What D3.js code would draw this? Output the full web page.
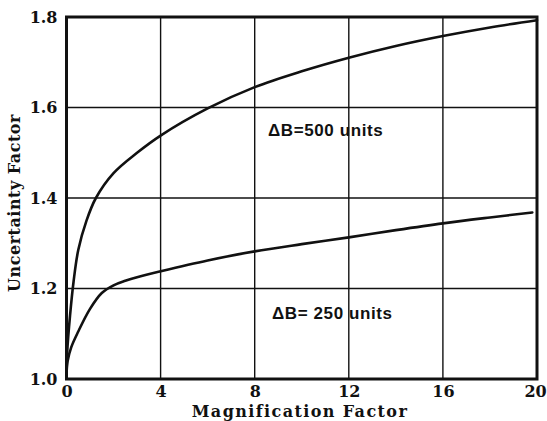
<!DOCTYPE html>
<html>
<head>
<meta charset="utf-8">
<script src="https://cdn.jsdelivr.net/npm/d3@7"></script>
<style>
  html, body { margin: 0; padding: 0; background: #fff; }
  svg { display: block; }
</style>
</head>
<body>
<svg id="chart" width="547" height="421"></svg>
<script>
// Magnification factor (x) and uncertainty factor (y) for two ΔB settings
const xTicks = [0, 4, 8, 12, 16, 20];
const yTicks = [1.0, 1.2, 1.4, 1.6, 1.8];
const yTickLabels = ["1.0", "1.2", "1.4", "1.6", "1.8"];

const mag500 = [0, 0.03, 0.15, 0.3, 0.5, 0.85, 1.25, 2, 3, 4, 6, 8, 10, 12, 14, 16, 18, 20];
const unc500 = [1.01, 1.06, 1.14, 1.215, 1.285, 1.35, 1.40, 1.455, 1.50, 1.538, 1.598, 1.645, 1.68, 1.71, 1.736, 1.758, 1.777, 1.793];

const mag250 = [0, 0.05, 0.2, 0.5, 1, 1.5, 2, 2.5, 3, 4, 6, 8, 10, 12, 14, 16, 18, 19.8];
const unc250 = [1.01, 1.04, 1.07, 1.105, 1.155, 1.19, 1.207, 1.217, 1.225, 1.238, 1.262, 1.282, 1.298, 1.313, 1.329, 1.344, 1.357, 1.368];

const seriesLabels = ["ΔB=500 units", "ΔB= 250 units"];

const svg = d3.select("#chart");
const plotLeft = 66.5, plotRight = 537, plotTop = 17, plotBottom = 379;

const x = d3.scaleLinear().domain([0, 20]).range([plotLeft, plotRight]);
const y = d3.scaleLinear().domain([1.0, 1.8]).range([plotBottom, plotTop]);

const serif = "'DejaVu Serif', 'Liberation Serif', serif";
const sans = "'Liberation Sans', Arial, sans-serif";

// grid lines
const grid = svg.append("g").attr("stroke", "#111").attr("stroke-width", 1.4);
grid.selectAll("line.vx").data(xTicks.slice(1, -1)).join("line")
  .attr("x1", d => x(d)).attr("x2", d => x(d))
  .attr("y1", plotTop).attr("y2", plotBottom);
grid.selectAll("line.hy").data(yTicks.slice(1, -1)).join("line")
  .attr("x1", plotLeft).attr("x2", plotRight)
  .attr("y1", d => y(d)).attr("y2", d => y(d));

// frame
svg.append("rect")
  .attr("x", plotLeft).attr("y", plotTop)
  .attr("width", plotRight - plotLeft).attr("height", plotBottom - plotTop)
  .attr("fill", "none").attr("stroke", "#111").attr("stroke-width", 3);

// axes (labels only; the frame draws the spines)
const xAxis = d3.axisBottom(x).tickValues(xTicks).tickSize(0).tickPadding(7).tickFormat(d3.format("d"));
const gx = svg.append("g").attr("transform", `translate(0,${plotBottom})`).call(xAxis);
gx.select(".domain").remove();
gx.selectAll("text").attr("font-family", serif).attr("font-weight", "bold")
  .attr("font-size", 16).attr("fill", "#111")
  .attr("dx", d => d === 20 ? -2 : 0);

const yAxis = d3.axisLeft(y).tickValues(yTicks).tickSize(0).tickPadding(9)
  .tickFormat((d, i) => yTickLabels[i]);
const gy = svg.append("g").attr("transform", `translate(${plotLeft},0)`).call(yAxis);
gy.select(".domain").remove();
gy.selectAll("text").attr("font-family", serif).attr("font-weight", "bold")
  .attr("font-size", 16).attr("fill", "#111");

// curves
const line = d3.line().x(d => x(d[0])).y(d => y(d[1])).curve(d3.curveCatmullRom.alpha(0.5));
const s500 = mag500.map((m, i) => [m, unc500[i]]);
const s250 = mag250.map((m, i) => [m, unc250[i]]);
svg.selectAll("path.curve").data([s500, s250]).join("path")
  .attr("class", "curve")
  .attr("d", line)
  .attr("fill", "none").attr("stroke", "#111").attr("stroke-width", 2.6)
  .attr("stroke-linecap", "round");

// series labels
svg.append("text").attr("x", 268).attr("y", 136).text(seriesLabels[0])
  .attr("font-family", sans).attr("font-weight", "bold").attr("font-size", 17)
  .attr("letter-spacing", 0.6).attr("fill", "#111");
svg.append("text").attr("x", 272).attr("y", 319).text(seriesLabels[1])
  .attr("font-family", sans).attr("font-weight", "bold").attr("font-size", 17)
  .attr("letter-spacing", 0.6).attr("fill", "#111");

// axis titles
svg.append("text").attr("x", 300).attr("y", 417).attr("text-anchor", "middle")
  .text("Magnification Factor")
  .attr("font-family", serif).attr("font-weight", "bold").attr("font-size", 16)
  .attr("letter-spacing", 1.4).attr("fill", "#111");
svg.append("text").attr("transform", "translate(20,203) rotate(-90)").attr("text-anchor", "middle")
  .text("Uncertainty Factor")
  .attr("font-family", serif).attr("font-weight", "bold").attr("font-size", 16)
  .attr("letter-spacing", 0.5).attr("fill", "#111");
</script>
</body>
</html>
